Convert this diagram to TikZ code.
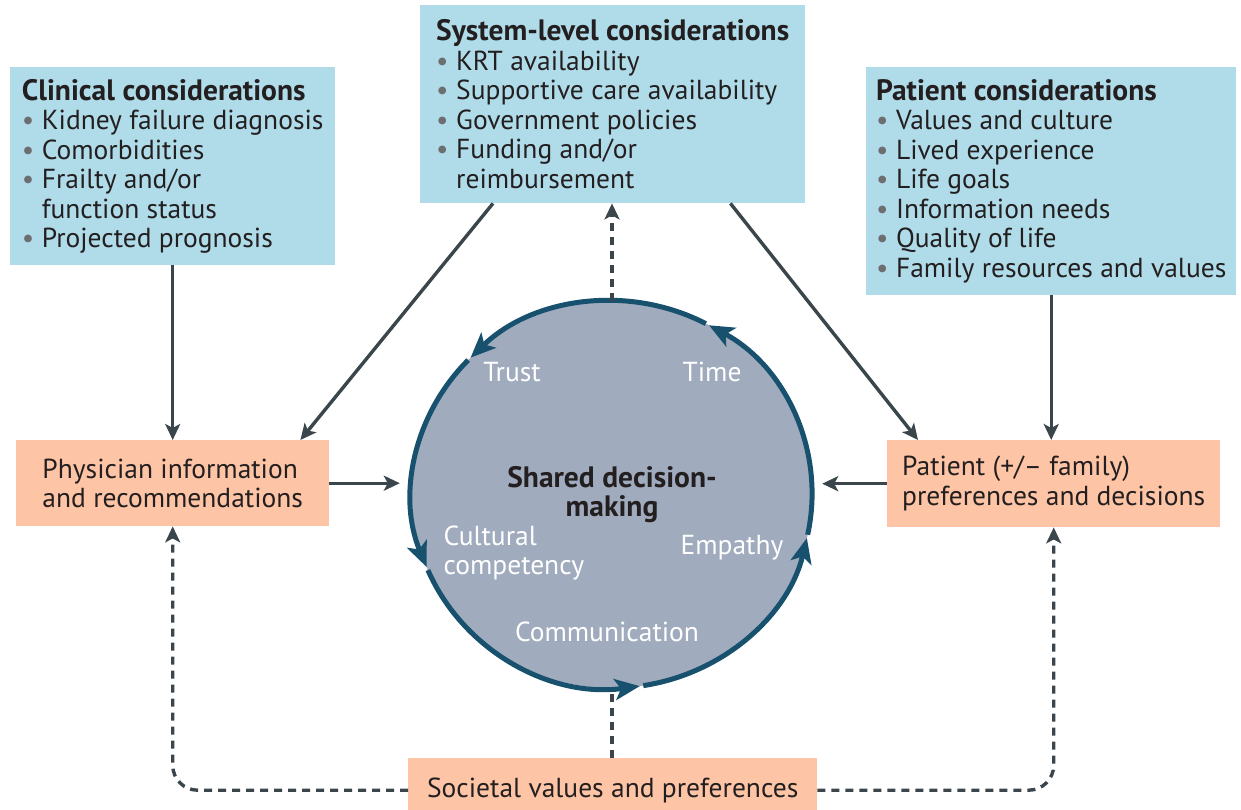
\documentclass[tikz,border=0pt]{standalone}
\usepackage{fontspec}
\setmainfont{PT Sans}
\usepackage{tikz}
\usetikzlibrary{arrows.meta,shapes.geometric}

\definecolor{boxblue}{HTML}{B0DCE9}
\definecolor{boxorange}{HTML}{FDC4A6}
\definecolor{sdmfill}{HTML}{A0ABBE}
\definecolor{sdmline}{HTML}{18516E}
\definecolor{arrowgray}{HTML}{3B464C}
\definecolor{bulletgray}{HTML}{6D6E71}
\definecolor{textdark}{HTML}{231F20}

\newcommand{\bitem}[1]{\makebox[20pt][l]{\textcolor{bulletgray}{\textbullet}}#1}
\newcommand{\bcont}[1]{\hspace*{20pt}#1}
\newcommand{\btitle}[1]{{\fontsize{29.5pt}{29.5pt}\selectfont\bfseries #1}}

\tikzset{
  bluebox/.style={fill=boxblue, anchor=north west, align=left, text=textdark,
    font=\fontsize{27.5pt}{29.5pt}\selectfont, inner sep=0pt},
  orangebox/.style={fill=boxorange, anchor=north west, align=left, text=textdark,
    font=\fontsize{27.5pt}{29.5pt}\selectfont, inner sep=0pt},
  conn/.style={draw=arrowgray, line width=3.4pt,
    -{Stealth[length=16pt, width=15pt, inset=4pt]}},
  dashconn/.style={conn, dash pattern=on 8pt off 6pt},
  cycarrow/.style={draw=sdmline, line width=5pt,
    -{Stealth[length=25pt, width=21pt, inset=6pt]}},
  circtext/.style={text=white, align=left, font=\fontsize{27.5pt}{29.5pt}\selectfont}
}

\begin{document}
\begin{tikzpicture}[x=1pt, y=1pt]
  \useasboundingbox (0,0) rectangle (1241,-810);

  % Consideration boxes
  \node[bluebox, minimum width=325, minimum height=198] (clin) at (10,-67)
    {\btitle{Clinical considerations}\\
     \bitem{Kidney failure diagnosis}\\
     \bitem{Comorbidities}\\
     \bitem{Frailty and/or}\\
     \bcont{function status}\\
     \bitem{Projected prognosis}};
  \node[bluebox, minimum width=385, minimum height=198] (sys) at (420,-5)
    {\btitle{System-level considerations}\\
     \bitem{KRT availability}\\
     \bitem{Supportive care availability}\\
     \bitem{Government policies}\\
     \bitem{Funding and/or}\\
     \bcont{reimbursement}};
  \node[bluebox, minimum width=370, minimum height=228] (pat) at (866,-67)
    {\btitle{Patient considerations}\\
     \bitem{Values and culture}\\
     \bitem{Lived experience}\\
     \bitem{Life goals}\\
     \bitem{Information needs}\\
     \bitem{Quality of life}\\
     \bitem{Family resources and values}};

  % Decision boxes
  \node[orangebox, minimum width=313, minimum height=86] (phys) at (16,-440)
    {Physician information\\and recommendations};
  \node[orangebox, minimum width=333, minimum height=87] (pref) at (887,-440)
    {Patient (+/– family)\\preferences and decisions};
  \node[orangebox, minimum width=409, minimum height=64] (soc) at (408,-758)
    {Societal values and preferences};

  % Shared decision-making circle
  \node[ellipse, fill=sdmfill, minimum width=400, minimum height=387, inner sep=0pt,
        font=\fontsize{29.5pt}{29.5pt}\selectfont\bfseries, text=textdark, align=center]
    (sdm) at (612,-494.5) {Shared decision-\\making};
  \foreach \a/\b in {-12/61, 62/135, 136/202, 203/278, 279/347}
    \draw[cycarrow] ([shift={(\a:200pt and 193.5pt)}]sdm.center)
      arc[start angle=\a, end angle=\b, x radius=200pt, y radius=193.5pt];

  \node[circtext] (trust) at (512,-372) {Trust};
  \node[circtext] (time) at (712,-372) {Time};
  \node[circtext, anchor=west] (cult) at (440,-553) {Cultural\\competency};
  \node[circtext] (emp) at (732,-548) {Empathy};
  \node[circtext] (comm) at (607,-632) {Communication};

  % Solid connectors
  \draw[conn] (clin.south) -- (clin.south |- phys.north);
  \draw[conn] ([xshift=73pt]sys.south west) -- ([xshift=-29pt]phys.north east);
  \draw[conn] ([xshift=-75pt]sys.south east) -- ([xshift=31pt]pref.north west);
  \draw[conn] (pat.south) -- (pat.south |- pref.north);
  \draw[conn, shorten >=12pt] (phys.east) -- (phys.east -| sdm.west);
  \draw[conn, shorten >=10pt] (pref.east -| pref.west) -- (pref.west -| sdm.east);

  % Dashed connectors
  \draw[dashconn] (sdm.north) -- (sdm.north |- sys.south);
  \draw[dashconn, -] (soc.north -| sdm.south) -- (sdm.south);
  \draw[dashconn, rounded corners=25pt] (soc.west) -| (phys.south);
  \draw[dashconn, rounded corners=25pt] (soc.east) -| (pref.south);
\end{tikzpicture}
\end{document}
